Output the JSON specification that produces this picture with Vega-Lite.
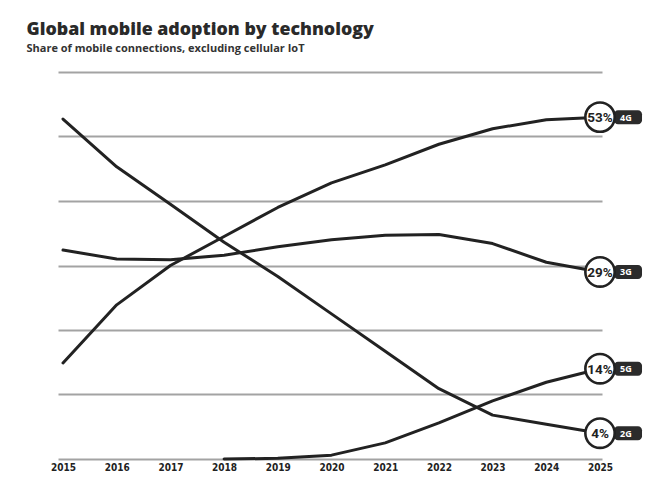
{
  "$schema": "https://vega.github.io/schema/vega-lite/v6.json",
  "width": 544,
  "height": 387,
  "autosize": {"type": "none"},
  "padding": {"top": 72, "left": 58, "right": 50, "bottom": 31},
  "background": "white",
  "title": {
    "text": "Global mobile adoption by technology",
    "subtitle": "Share of mobile connections, excluding cellular IoT",
    "anchor": "start",
    "dx": -24,
    "offset": 18,
    "font": "Open Sans",
    "fontSize": 17.8,
    "fontWeight": 800,
    "color": "#2a2a2a",
    "subtitleFont": "Open Sans",
    "subtitleFontSize": 11,
    "subtitleFontWeight": 700,
    "subtitleColor": "#333333",
    "subtitlePadding": 4
  },
  "config": {
    "view": {"stroke": null},
    "font": "Roboto, sans-serif"
  },
  "data": {
    "values": [
      {"year": 2015, "tech": "2G", "share": 0.527},
      {"year": 2016, "tech": "2G", "share": 0.453},
      {"year": 2017, "tech": "2G", "share": 0.395},
      {"year": 2018, "tech": "2G", "share": 0.336},
      {"year": 2019, "tech": "2G", "share": 0.283},
      {"year": 2020, "tech": "2G", "share": 0.225},
      {"year": 2021, "tech": "2G", "share": 0.167},
      {"year": 2022, "tech": "2G", "share": 0.109},
      {"year": 2023, "tech": "2G", "share": 0.068},
      {"year": 2024, "tech": "2G", "share": 0.054},
      {"year": 2025, "tech": "2G", "share": 0.04},
      {"year": 2015, "tech": "3G", "share": 0.324},
      {"year": 2016, "tech": "3G", "share": 0.31},
      {"year": 2017, "tech": "3G", "share": 0.309},
      {"year": 2018, "tech": "3G", "share": 0.316},
      {"year": 2019, "tech": "3G", "share": 0.329},
      {"year": 2020, "tech": "3G", "share": 0.34},
      {"year": 2021, "tech": "3G", "share": 0.347},
      {"year": 2022, "tech": "3G", "share": 0.348},
      {"year": 2023, "tech": "3G", "share": 0.334},
      {"year": 2024, "tech": "3G", "share": 0.305},
      {"year": 2025, "tech": "3G", "share": 0.29},
      {"year": 2015, "tech": "4G", "share": 0.149},
      {"year": 2016, "tech": "4G", "share": 0.239},
      {"year": 2017, "tech": "4G", "share": 0.3},
      {"year": 2018, "tech": "4G", "share": 0.345},
      {"year": 2019, "tech": "4G", "share": 0.39},
      {"year": 2020, "tech": "4G", "share": 0.428},
      {"year": 2021, "tech": "4G", "share": 0.456},
      {"year": 2022, "tech": "4G", "share": 0.488},
      {"year": 2023, "tech": "4G", "share": 0.512},
      {"year": 2024, "tech": "4G", "share": 0.526},
      {"year": 2025, "tech": "4G", "share": 0.53},
      {"year": 2018, "tech": "5G", "share": 0.0},
      {"year": 2019, "tech": "5G", "share": 0.001},
      {"year": 2020, "tech": "5G", "share": 0.006},
      {"year": 2021, "tech": "5G", "share": 0.025},
      {"year": 2022, "tech": "5G", "share": 0.056},
      {"year": 2023, "tech": "5G", "share": 0.09},
      {"year": 2024, "tech": "5G", "share": 0.119},
      {"year": 2025, "tech": "5G", "share": 0.14}
    ]
  },
  "encoding": {
    "x": {
      "field": "year",
      "type": "quantitative",
      "scale": {"domain": [2014.907, 2025.037], "nice": false, "zero": false},
      "axis": {
        "values": [2015, 2016, 2017, 2018, 2019, 2020, 2021, 2022, 2023, 2024, 2025],
        "format": "d",
        "title": null,
        "grid": false,
        "domain": false,
        "ticks": false,
        "labelPadding": 3,
        "labelFontSize": 10,
        "labelFontWeight": "bold",
        "labelColor": "#222222",
        "labelFont": "DejaVu Sans Condensed, sans-serif"
      }
    },
    "y": {
      "field": "share",
      "type": "quantitative",
      "scale": {"domain": [0, 0.6], "nice": false},
      "axis": {
        "values": [0, 0.1, 0.2, 0.3, 0.4, 0.5, 0.6],
        "title": null,
        "labels": false,
        "ticks": false,
        "domain": false,
        "grid": true,
        "gridColor": "#a3a3a3",
        "gridWidth": 2
      }
    }
  },
  "layer": [
    {
      "mark": {"type": "line", "color": "#222222", "strokeWidth": 3, "strokeCap": "round", "strokeJoin": "round"},
      "encoding": {"detail": {"field": "tech"}}
    },
    {
      "transform": [{"filter": "datum.year === 2025"}],
      "mark": {"type": "rect", "color": "#2b2b2b", "cornerRadius": 4, "xOffset": 14, "x2Offset": 42, "yOffset": -7, "y2Offset": 7},
      "encoding": {"x2": {"field": "year"}, "y2": {"field": "share"}}
    },
    {
      "transform": [{"filter": "datum.year === 2025"}],
      "mark": {"type": "point", "shape": "circle", "filled": true, "fill": "white", "stroke": "#222222", "strokeWidth": 2.6, "size": 860, "opacity": 1}
    },
    {
      "transform": [{"filter": "datum.year === 2025"}],
      "mark": {"type": "text", "fontSize": 13.5, "fontWeight": "bold", "font": "Roboto", "color": "#222222", "align": "center", "baseline": "middle", "dy": 1},
      "encoding": {"text": {"field": "share", "format": ".0%"}}
    },
    {
      "transform": [{"filter": "datum.year === 2025"}],
      "mark": {"type": "text", "fontSize": 9, "fontWeight": "bold", "color": "white", "align": "left", "baseline": "middle", "dx": 20, "dy": 0.5, "font": "Open Sans"},
      "encoding": {"text": {"field": "tech"}}
    }
  ]
}
